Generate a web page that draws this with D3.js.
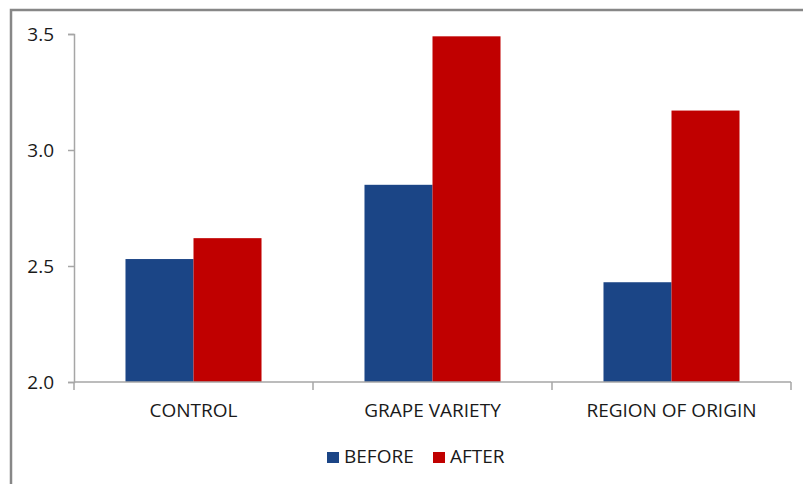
<!DOCTYPE html>
<html>
<head>
<meta charset="utf-8">
<script src="https://cdn.jsdelivr.net/npm/d3@7"></script>
<style>
  html, body { margin: 0; padding: 0; background: #fff; }
  svg { display: block; }
  text { font-family: "Open Sans", sans-serif; fill: #1a1a1a; }
</style>
</head>
<body>
<svg id="chart" width="803" height="484"></svg>
<script>
// Survey scores before and after, by treatment group
const categories = ["CONTROL", "GRAPE VARIETY", "REGION OF ORIGIN"];
const seriesNames = ["BEFORE", "AFTER"];
const before = [2.53, 2.85, 2.43];
const after = [2.62, 3.49, 3.17];
const yTicks = [2.0, 2.5, 3.0, 3.5];
const colors = ["#1b4586", "#c00000"];

const svg = d3.select("#chart");
const W = 803, H = 484;

// Outer frame (extends past the right and bottom edges)
svg.append("rect")
  .attr("x", 11).attr("y", 10)
  .attr("width", W + 20).attr("height", H + 20)
  .attr("fill", "#fff")
  .attr("stroke", "#878787").attr("stroke-width", 2.5);

const plot = { left: 74, right: 791, top: 34, bottom: 382 };

const x0 = d3.scaleBand()
  .domain(categories)
  .range([plot.left, plot.right])
  .paddingInner(0).paddingOuter(0);

const x1 = d3.scaleBand()
  .domain(seriesNames)
  .range([0, x0.bandwidth()])
  .paddingInner(0)
  .paddingOuter(0.757);

const y = d3.scaleLinear().domain([2.0, 3.5]).range([plot.bottom, plot.top]);

const rows = categories.map((c, i) => ({ cat: c, vals: [before[i], after[i]] }));

// Bars
const groups = svg.append("g").selectAll("g")
  .data(rows).join("g")
  .attr("transform", d => `translate(${x0(d.cat)},0)`);

groups.selectAll("rect")
  .data(d => d.vals.map((v, j) => ({ key: seriesNames[j], v, j })))
  .join("rect")
  .attr("x", d => x1(d.key))
  .attr("y", d => y(d.v))
  .attr("width", x1.bandwidth())
  .attr("height", d => y(2.0) - y(d.v))
  .attr("fill", d => colors[d.j]);

// Y axis
const yAxis = d3.axisLeft(y)
  .tickValues(yTicks)
  .tickFormat(d3.format(".1f"))
  .tickSize(6)
  .tickPadding(14);

const gy = svg.append("g")
  .attr("transform", `translate(${plot.left},0)`)
  .call(yAxis);
gy.select(".domain").attr("stroke", "#a6a6a6").attr("stroke-width", 1.5);
gy.selectAll(".tick line").attr("stroke", "#a6a6a6").attr("stroke-width", 1.5);
gy.selectAll(".tick text")
  .style("font-family", "'Open Sans', sans-serif")
  .style("font-size", "19px")
  .attr("fill", "#1a1a1a");

// X axis: tick marks at band boundaries, labels at band centres
const gx = svg.append("g").attr("transform", `translate(0,${plot.bottom})`);
gx.append("line")
  .attr("x1", plot.left).attr("x2", plot.right)
  .attr("y1", 0).attr("y2", 0)
  .attr("stroke", "#a6a6a6").attr("stroke-width", 1.5);

const boundaries = categories.map(c => x0(c)).concat([plot.right]);
gx.selectAll(".bt")
  .data(boundaries).join("line")
  .attr("class", "bt")
  .attr("x1", d => d).attr("x2", d => d)
  .attr("y1", 0).attr("y2", 8)
  .attr("stroke", "#a6a6a6").attr("stroke-width", 1.5);

gx.selectAll(".cl")
  .data(categories).join("text")
  .attr("class", "cl")
  .attr("x", d => x0(d) + x0.bandwidth() / 2)
  .attr("y", 35)
  .attr("text-anchor", "middle")
  .style("font-size", "19px")
  .text(d => d);

// Legend
const legend = svg.append("g").attr("transform", "translate(327,452)");
const lx = [0, 106];
seriesNames.forEach((s, i) => {
  const g = legend.append("g").attr("transform", `translate(${lx[i]},0)`);
  g.append("rect").attr("x", 0).attr("y", 0).attr("width", 12).attr("height", 11)
    .attr("fill", colors[i]);
  g.append("text").attr("x", 17).attr("y", 11)
    .style("font-size", "19px")
    .text(s);
});
</script>
</body>
</html>
